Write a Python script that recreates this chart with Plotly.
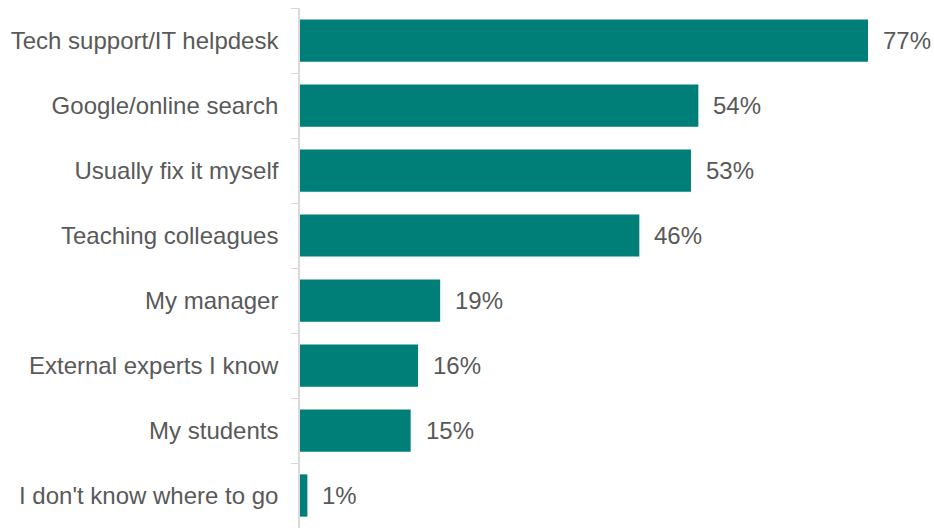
import plotly.graph_objects as go

categories = ["Tech support/IT helpdesk", "Google/online search", "Usually fix it myself",
              "Teaching colleagues", "My manager", "External experts I know",
              "My students", "I don't know where to go"]
values = [77, 54, 53, 46, 19, 16, 15, 1]

fig = go.Figure()
fig.add_trace(go.Bar(
    x=values, y=categories, orientation="h",
    marker=dict(color="#007F78", line=dict(width=0)),
    hoverinfo="skip",
))
for c, v in zip(categories, values):
    fig.add_annotation(x=v, y=c, text=f"{v}%", showarrow=False, xanchor="left",
                       xshift=13, font=dict(family="Liberation Sans, Arial", size=24, color="#595959"))

fig.update_layout(
    width=934, height=528,
    margin=dict(l=300, r=0, t=8, b=0),
    plot_bgcolor="white", paper_bgcolor="white",
    bargap=0.35, showlegend=False,
    font=dict(family="Liberation Sans, Arial", size=24, color="#595959"),
)
fig.update_xaxes(range=[0, 634 / 7.377], visible=False)
fig.update_yaxes(autorange="reversed", type="category", showline=True, linecolor="#D9D9D9",
                 linewidth=1.5, ticks="outside", ticklen=7, tickcolor="#D9D9D9",
                 tickson="boundaries", ticklabelstandoff=15, showgrid=False,
                 tickfont=dict(size=24, color="#595959"))
fig.write_html("out.html")
